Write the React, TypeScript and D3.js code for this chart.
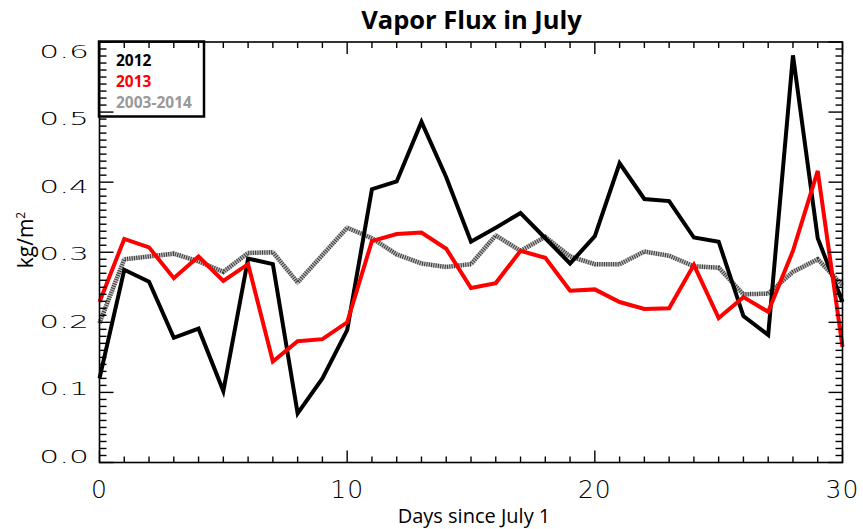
import React from "react";
import * as d3 from "d3";

const days: number[] = d3.range(0, 31);

const flux2012: number[] = [
  0.120, 0.275, 0.258, 0.178, 0.191, 0.102, 0.291, 0.283, 0.070, 0.120,
  0.189, 0.390, 0.401, 0.486, 0.407, 0.315, 0.335, 0.356, 0.320, 0.284,
  0.323, 0.427, 0.376, 0.373, 0.321, 0.315, 0.209, 0.182, 0.581, 0.320,
  0.229,
];

const flux2013: number[] = [
  0.229, 0.319, 0.307, 0.263, 0.294, 0.259, 0.283, 0.144, 0.173, 0.176,
  0.200, 0.316, 0.326, 0.328, 0.305, 0.249, 0.256, 0.302, 0.292, 0.245,
  0.247, 0.229, 0.219, 0.220, 0.282, 0.206, 0.236, 0.215, 0.302, 0.416,
  0.165,
];

const fluxClim: number[] = [
  0.199, 0.290, 0.294, 0.298, 0.287, 0.272, 0.299, 0.300, 0.257, 0.296,
  0.335, 0.320, 0.297, 0.284, 0.279, 0.283, 0.324, 0.302, 0.322, 0.294,
  0.283, 0.283, 0.301, 0.295, 0.280, 0.278, 0.240, 0.241, 0.272, 0.290,
  0.253,
];

const xTickValues: number[] = [0, 10, 20, 30];
const xTickLabels: string[] = ["0", "10", "20", "30"];
const yTickValues: number[] = [0, 0.1, 0.2, 0.3, 0.4, 0.5, 0.6];
const yTickLabels: string[] = ["0.0", "0.1", "0.2", "0.3", "0.4", "0.5", "0.6"];
const legendLabels: string[] = ["2012", "2013", "2003-2014"];

const W = 863;
const H = 529;
const L = 99.5, R = 842.5, T = 42, B = 462.5;

export default function App() {
  const x = d3.scaleLinear().domain([0, 30]).range([L, R]);
  const y = d3.scaleLinear().domain([0, 0.6]).range([B, T]);
  const yLab = d3.scaleLinear().domain([0, 0.6]).range([456, 51]);

  const line = d3
    .line<number>()
    .x((_, i) => x(days[i]))
    .y((d) => y(d));

  const xMinor = d3.range(0, 31, 1);
  const yMinor = d3.range(0, 61, 1).map((k) => k / 100);

  const tickFont = "'DejaVu Sans', sans-serif";
  const textFont = "'Open Sans', sans-serif";

  return (
    <svg
      width={W}
      height={H}
      style={{ position: "absolute", left: 0, top: 0, background: "#fff" }}
    >
      <rect x={0} y={0} width={W} height={H} fill="#fff" />

      {/* Title */}
      <text
        x={471.5}
        y={29}
        textAnchor="middle"
        fontFamily={textFont}
        fontWeight={700}
        fontSize={25.5}
        fill="#000"
      >
        Vapor Flux in July
      </text>

      {/* Legend box */}
      <rect x={99} y={41.5} width={105} height={75} fill="#fff" stroke="#000" strokeWidth={2.5} />
      {legendLabels.map((lab, i) => (
        <text
          key={lab}
          x={116}
          y={65.5 + i * 21}
          fontFamily={textFont}
          fontWeight={700}
          fontSize={15.5}
          fill={i === 0 ? "#000" : i === 1 ? "#ff0000" : "#999999"}
        >
          {lab}
        </text>
      ))}

      {/* Lines */}
      <path d={line(fluxClim) || ""} fill="none" stroke="#bdbdbd" strokeWidth={4.5} strokeLinejoin="miter" />
      <path
        d={line(fluxClim) || ""}
        fill="none"
        stroke="#000"
        strokeWidth={4.5}
        strokeDasharray="1 1.3"
        strokeOpacity={0.7}
        strokeLinejoin="miter"
      />
      <path d={line(flux2012) || ""} fill="none" stroke="#000" strokeWidth={4} strokeLinejoin="miter" />
      <path d={line(flux2013) || ""} fill="none" stroke="#ff0000" strokeWidth={4} strokeLinejoin="miter" />

      {/* Axes box */}
      <rect x={L} y={T} width={R - L} height={B - T} fill="none" stroke="#000" strokeWidth={1.6} />

      {/* X ticks */}
      {xMinor.map((v) => {
        const major = v % 10 === 0;
        const len = major ? 12 : 6;
        return (
          <g key={"xt" + v}>
            <line x1={x(v)} x2={x(v)} y1={B} y2={B - len} stroke="#000" strokeWidth={1.4} />
            <line x1={x(v)} x2={x(v)} y1={T} y2={T + len} stroke="#000" strokeWidth={1.4} />
          </g>
        );
      })}

      {/* Y ticks */}
      {yMinor.map((v, k) => {
        const major = k % 10 === 0;
        const len = major ? 14 : 7;
        return (
          <g key={"yt" + k}>
            <line x1={L} x2={L + len} y1={y(v)} y2={y(v)} stroke="#000" strokeWidth={1.4} />
            <line x1={R} x2={R - len} y1={y(v)} y2={y(v)} stroke="#000" strokeWidth={1.4} />
          </g>
        );
      })}

      {/* X tick labels */}
      {xTickValues.map((v, i) => (
        <text
          key={"xl" + v}
          x={x(v)}
          y={498}
          textAnchor="middle"
          fontFamily={tickFont}
          fontWeight={200}
          fontSize={25}
          letterSpacing={1}
          fill="#000"
        >
          {xTickLabels[i]}
        </text>
      ))}

      {/* Y tick labels */}
      {yTickValues.map((v, i) => (
        <text
          key={"yl" + i}
          transform={`translate(89, ${yLab(v) + 6.5}) scale(1.25, 0.72)`}
          textAnchor="end"
          fontFamily={tickFont}
          fontWeight={200}
          fontSize={25}
          fill="#000"
        >
          {yTickLabels[i]}
        </text>
      ))}

      {/* Axis titles */}
      <text
        x={474}
        y={523}
        textAnchor="middle"
        fontFamily={textFont}
        fontSize={20}
        fill="#000"
      >
        Days since July 1
      </text>
      <text
        transform="translate(33, 240) rotate(-90)"
        textAnchor="middle"
        fontFamily={textFont}
        fontSize={21}
        fill="#000"
      >
        kg/m<tspan fontSize={12} dy={-8}>2</tspan>
      </text>
    </svg>
  );
}
